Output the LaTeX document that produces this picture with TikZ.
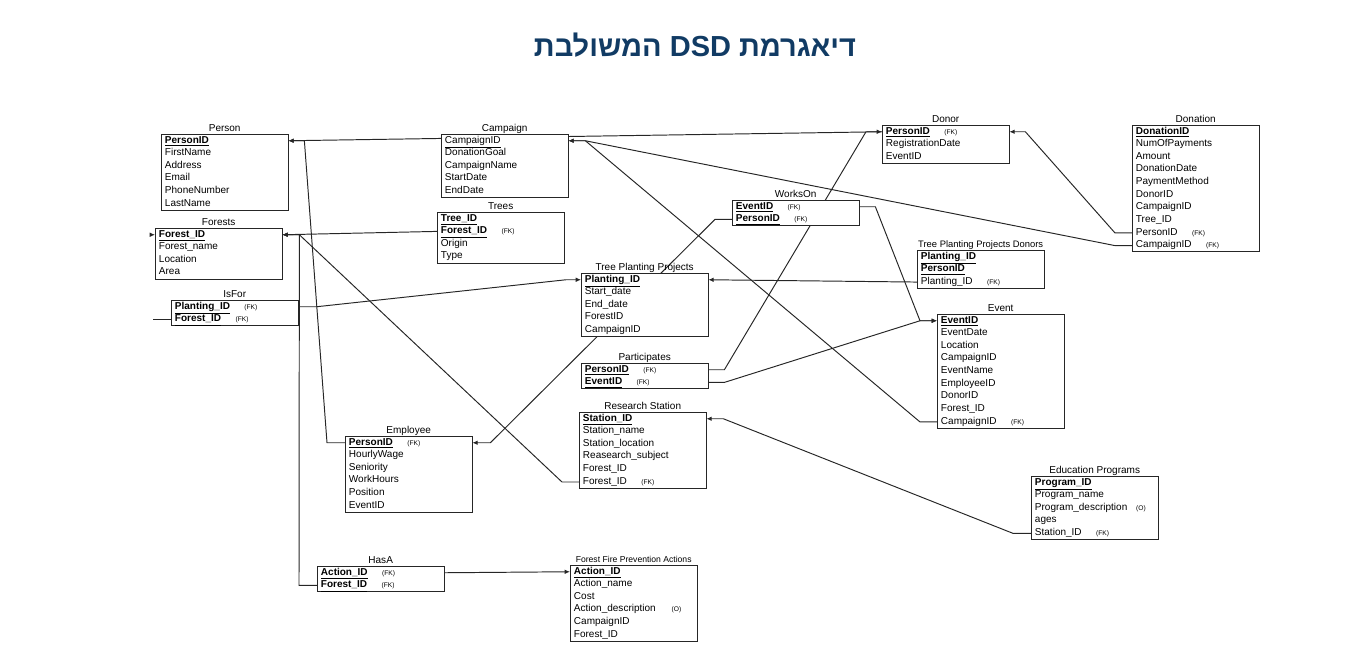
\documentclass[tikz,border=0pt]{standalone}
\usepackage{fontspec}
\setmainfont{Liberation Sans}
\newfontfamily\hebfont[Script=Hebrew]{Liberation Sans}
\TeXXeTstate=1
\usepackage{xcolor}
\usepackage{tikz}
\usetikzlibrary{arrows.meta,positioning,matrix,calc,backgrounds}
\definecolor{titleblue}{RGB}{17,59,100}
\newcommand{\fkmark}{\nobreak\hspace{8.2pt}{\mdseries\fontsize{3.8}{4}\selectfont(FK)}}
\newcommand{\omark}[1][8pt]{\nobreak\hspace{#1}{\mdseries\fontsize{3.8}{4}\selectfont(O)}}

\begin{document}
\begin{tikzpicture}[
  x=0.02cm, y=-0.02cm,
  every node/.style={font=\fontsize{5.7}{7.2}\selectfont},
  cell/.style={text width=68pt, inner xsep=2pt, inner ysep=0pt, text height=4.9pt, text depth=2.3pt},
  tbl/.style={matrix of nodes, draw=black!85, line width=0.5pt, fill=white, anchor=north west, inner sep=0pt, nodes={cell}},
  key/.style={font=\fontsize{5.7}{7.2}\selectfont\bfseries},
  ttl/.style={inner sep=0.3pt, text height=4.2pt, text depth=1.2pt},
  heading/.style={font=\hebfont\bfseries\fontsize{16.5}{19}\selectfont, text=titleblue},
  conn/.style={draw=black!85, line width=0.55pt},
  arr/.style={conn, -{Latex[length=3pt,width=2.6pt]}}
]
\useasboundingbox (0,0) rectangle (1350,671);

\node[heading] (heading) at (695,45) {\beginR דיאגרמת \beginL DSD\endL{} המשולבת\endR};

\matrix[tbl] (person) at (161,134) {
  |[key]| \underline{PersonID} \\
  FirstName \\
  Address \\
  Email \\
  PhoneNumber \\
  LastName \\
};
\node[ttl, above=0pt of person] (personttl) {Person};

\matrix[tbl] (campaign) at (441,134) {
  \underline{CampaignID} \\
  DonationGoal \\
  CampaignName \\
  StartDate \\
  EndDate \\
};
\node[ttl, above=0pt of campaign] (campaignttl) {Campaign};

\matrix[tbl] (forests) at (155,228) {
  |[key]| \underline{Forest\_ID} \\
  Forest\_name \\
  Location \\
  Area \\
};
\node[ttl, above=0pt of forests] (foreststtl) {Forests};

\matrix[tbl] (trees) at (437,212) {
  |[key]| \underline{Tree\_ID} \\
  |[key]| \underline{Forest\_ID}\fkmark \\
  Origin \\
  Type \\
};
\node[ttl, above=0pt of trees] (treesttl) {Trees};

\matrix[tbl] (isfor) at (171,300) {
  |[key]| \underline{Planting\_ID}\fkmark \\
  |[key]| \underline{Forest\_ID}\fkmark \\
};
\node[ttl, above=0pt of isfor] (isforttl) {IsFor};

\matrix[tbl] (donor) at (882,125) {
  |[key]| \underline{PersonID}\fkmark \\
  RegistrationDate \\
  EventID \\
};
\node[ttl, above=0pt of donor] (donorttl) {Donor};

\matrix[tbl] (donation) at (1132,125) {
  |[key]| \underline{DonationID} \\
  NumOfPayments \\
  Amount \\
  DonationDate \\
  PaymentMethod \\
  DonorID \\
  CampaignID \\
  Tree\_ID \\
  PersonID\fkmark \\
  CampaignID\fkmark \\
};
\node[ttl, above=0pt of donation] (donationttl) {Donation};

\matrix[tbl] (workson) at (732,200) {
  |[key]| \underline{EventID}\fkmark \\
  |[key]| \underline{PersonID}\fkmark \\
};
\node[ttl, above=0pt of workson] (worksonttl) {WorksOn};

\matrix[tbl] (tppd) at (917,250) {
  |[key]| \underline{Planting\_ID} \\
  |[key]| \underline{PersonID} \\
  Planting\_ID\fkmark \\
};
\node[ttl, above=0pt of tppd, font=\fontsize{5.35}{7}\selectfont] (tppdttl) {Tree Planting Projects Donors};

\matrix[tbl] (event) at (937,314) {
  |[key]| \underline{EventID} \\
  EventDate \\
  Location \\
  CampaignID \\
  EventName \\
  EmployeeID \\
  DonorID \\
  Forest\_ID \\
  CampaignID\fkmark \\
};
\node[ttl, above=0pt of event] (eventttl) {Event};

\matrix[tbl] (tpp) at (581,273) {
  |[key]| \underline{Planting\_ID} \\
  Start\_date \\
  End\_date \\
  ForestID \\
  CampaignID \\
};
\node[ttl, above=0pt of tpp] (tppttl) {Tree Planting Projects};

\matrix[tbl] (participates) at (581,363) {
  |[key]| \underline{PersonID}\fkmark \\
  |[key]| \underline{EventID}\fkmark \\
};
\node[ttl, above=0pt of participates] (participatesttl) {Participates};

\matrix[tbl] (station) at (579,412) {
  |[key]| \underline{Station\_ID} \\
  Station\_name \\
  Station\_location \\
  Reasearch\_subject \\
  Forest\_ID \\
  Forest\_ID\fkmark \\
};
\node[ttl, above=0pt of station] (stationttl) {Research Station};

\matrix[tbl] (employee) at (345,436) {
  |[key]| \underline{PersonID}\fkmark \\
  HourlyWage \\
  Seniority \\
  WorkHours \\
  Position \\
  EventID \\
};
\node[ttl, above=0pt of employee] (employeettl) {Employee};

\matrix[tbl] (education) at (1031,476) {
  |[key]| \underline{Program\_ID} \\
  Program\_name \\
  Program\_description\omark[5pt] \\
  ages \\
  Station\_ID\fkmark \\
};
\node[ttl, above=0pt of education] (educationttl) {Education Programs};

\matrix[tbl] (hasa) at (317,566) {
  |[key]| \underline{Action\_ID}\fkmark \\
  |[key]| \underline{Forest\_ID}\fkmark \\
};
\node[ttl, above=0pt of hasa] (hasattl) {HasA};

\matrix[tbl] (ffpa) at (570,565) {
  |[key]| \underline{Action\_ID} \\
  Action\_name \\
  Cost \\
  Action\_description\omark[9pt] \\
  CampaignID \\
  Forest\_ID \\
};
\node[ttl, above=0pt of ffpa, font=\fontsize{4.9}{6}\selectfont] (ffpattl) {Forest Fire Prevention Actions};

\coordinate (isforstub) at ($(isfor-2-1.west)+(-18,0)$);
\coordinate (forestsmark) at ($(forests-1-1.west)+(-2,0)$);

\begin{scope}[on background layer]
\draw[arr] (donor-1-1.west) -- (person-1-1.east);
\draw[arr] (employee-1-1.west) -- ++(-18,0) -- ($(person-1-1.east)+(16,0)$) -- (person-1-1.east);
\draw[arr] (participates-1-1.east) -- ++(16,0) -- ($(donor-1-1.west)+(-16,0)$) -- (donor-1-1.west);
\draw[arr] (donation-9-1.west) -- ++(-17,0) -- ($(donor-1-1.east)+(16,0)$) -- (donor-1-1.east);
\draw[arr] (donation-10-1.west) -- ++(-17,0) -- ($(campaign-1-1.east)+(17,0)$) -- (campaign-1-1.east);
\draw[arr] (event-9-1.west) -- ++(-17,0) -- ($(campaign-1-1.east)+(17,0)$) -- (campaign-1-1.east);
\draw[arr] (workson-2-1.west) -- ++(-17,0) -- ($(employee-1-1.east)+(18,0)$) -- (employee-1-1.east);
\draw[arr] (workson-1-1.east) -- ++(16,0) -- ($(event-1-1.west)+(-17,0)$) -- (event-1-1.west);
\draw[arr] (participates-2-1.east) -- ++(16,0) -- ($(event-1-1.west)+(-17,0)$) -- (event-1-1.west);
\draw[arr] (trees-2-1.west) -- (forests-1-1.east);
\draw[arr] (station-6-1.west) -- ++(-17,0) -- ($(forests-1-1.east)+(17,0)$) -- (forests-1-1.east);
\draw[arr] (hasa-2-1.west) -- ++(-18,0) -- ($(forests-1-1.east)+(17,0)$) -- (forests-1-1.east);
\draw[arr] (isfor-1-1.east) -- ++(18,0) -- ($(tpp-1-1.west)+(-15,0)$) -- (tpp-1-1.west);
\draw[conn] (isfor-2-1.west) -- (isforstub);
\draw[arr] (forestsmark) -- (forests-1-1.west);
\draw[arr] (tppd-3-1.west) -- (tpp-1-1.east);
\draw[arr] (hasa-1-1.east) -- (ffpa-1-1.west);
\draw[arr] (education-5-1.west) -- ++(-18,0) -- ($(station-1-1.east)+(17,0)$) -- (station-1-1.east);
\end{scope}
\end{tikzpicture}
\end{document}
